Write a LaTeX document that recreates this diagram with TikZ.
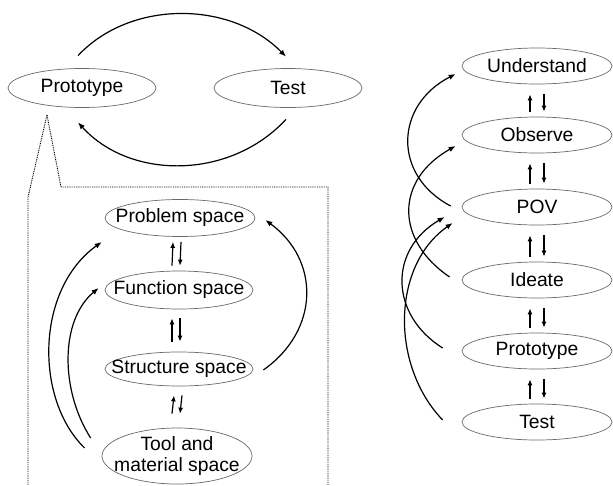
\documentclass[tikz,border=0pt]{standalone}
\usepackage{fontspec}
\setmainfont{Liberation Sans}
\usetikzlibrary{shapes.geometric,arrows.meta}
\definecolor{elgray}{RGB}{105,105,105}
\begin{document}
\begin{tikzpicture}[x=1pt,y=-1pt,
  el/.style={draw=elgray, line width=0.7pt, ellipse, inner sep=0pt},
  txt/.style={inner sep=0pt, font=\fontsize{19.3}{21.5}\selectfont, align=center},
  arr/.style={line width=1.2pt, -{Latex[length=6pt,width=5pt]}},
  curve/.style={line width=1.2pt, -{Latex[length=7pt,width=5.5pt]}},
  dots/.style={line width=0.9pt, dash pattern=on 0.9pt off 0.9pt}]
\useasboundingbox (0,0) rectangle (613,485);
% top pair
\node[el, minimum width=148pt, minimum height=39pt] (tp) at (82,88) {};
\node[txt] at (tp) {Prototype};
\node[el, minimum width=148pt, minimum height=39pt] (tt) at (288,88) {};
\node[txt] at (tt) {Test};
\draw[curve] ([xshift=-4pt,yshift=12.5pt]tp.north) .. controls (130,0) and (230,0) .. ([xshift=-2pt,yshift=11.5pt]tt.north);
\draw[curve] ([xshift=-2pt,yshift=-11.5pt]tt.south) .. controls (230,180) and (130,180) .. ([xshift=-4pt,yshift=-14.5pt]tp.south);
% dotted zoom box
\coordinate (apex) at (47,115);
\coordinate (bl) at (28,197);
\coordinate (blb) at (28,485);
\coordinate (tl) at (61,187);
\coordinate (tr) at (328,187);
\coordinate (trb) at (328,485);
\draw[dots] (apex) -- (bl) -- (blb);
\draw[dots] (apex) -- (tl) -- (tr) -- (trb);
% left box nodes
\node[el, minimum width=150pt, minimum height=37pt] (ps) at (180,218) {};
\node[txt] at (ps) {Problem space};
\node[el, minimum width=148pt, minimum height=38pt] (fs) at (179,290) {};
\node[txt] at (fs) {Function space};
\node[el, minimum width=148pt, minimum height=34pt] (ss) at (179,369) {};
\node[txt] at (ss) {Structure space};
\node[el, minimum width=150pt, minimum height=56pt] (tm) at (177,456) {};
\node[txt] at (tm) {Tool and\\material space};
% left box double arrows
\draw[arr] ([xshift=-7pt,yshift=5pt]fs.north) -- ([xshift=-7pt,yshift=-5pt]ps.south);
\draw[arr] ([xshift=1pt,yshift=-5pt]ps.south) -- ([xshift=1pt,yshift=5pt]fs.north);
\draw[arr] ([xshift=-7pt,yshift=10pt]ss.north) -- ([xshift=-7pt,yshift=-9pt]fs.south);
\draw[arr] ([xshift=1pt,yshift=-9pt]fs.south) -- ([xshift=1pt,yshift=10pt]ss.north);
\draw[arr] ([xshift=-5pt,yshift=14pt]tm.north) -- ([xshift=-5pt,yshift=-9pt]ss.south);
\draw[arr] ([xshift=3pt,yshift=-9pt]ss.south) -- ([xshift=3pt,yshift=14pt]tm.north);
% left box curves
\draw[curve] ([xshift=-17pt,yshift=8pt]tm.west) .. controls (35,400) and (35,290) .. ([xshift=-3pt,yshift=-24pt]ps.west);
\draw[curve] ([xshift=-11pt,yshift=18pt]tm.west) .. controls (60,390) and (60,320) .. ([xshift=-6pt,yshift=2pt]fs.west);
\draw[curve] ([xshift=10pt,yshift=-1pt]ss.east) .. controls (320,330) and (320,260) .. ([xshift=10pt,yshift=-2pt]ps.east);
% right column
\node[el, minimum width=150pt, minimum height=36pt] (un) at (537,66) {};
\node[txt] at (un) {Understand};
\node[el, minimum width=150pt, minimum height=36pt] (ob) at (537,135) {};
\node[txt] at (ob) {Observe};
\node[el, minimum width=150pt, minimum height=36pt] (pov) at (537,207) {};
\node[txt] at (pov) {POV};
\node[el, minimum width=150pt, minimum height=36pt] (id) at (537,280) {};
\node[txt] at (id) {Ideate};
\node[el, minimum width=150pt, minimum height=36pt] (pr) at (537,351) {};
\node[txt] at (pr) {Prototype};
\node[el, minimum width=150pt, minimum height=36pt] (te) at (537,422) {};
\node[txt] at (te) {Test};
\foreach \a/\b in {un/ob, ob/pov, pov/id, id/pr, pr/te}{
  \draw[arr] ([xshift=-7pt,yshift=5pt]\b.north) -- ([xshift=-7pt,yshift=-10pt]\a.south);
  \draw[arr] ([xshift=7pt,yshift=-10pt]\a.south) -- ([xshift=7pt,yshift=5pt]\b.north);
}
% right curves
\draw[curve] ([xshift=-11pt,yshift=1pt]pov.west) .. controls (392,175) and (395,105) .. ([xshift=-6pt,yshift=-8pt]un.west);
\draw[curve] ([xshift=-12pt,yshift=3pt]id.west) .. controls (395,240) and (395,180) .. ([xshift=-6pt,yshift=-11pt]ob.west);
\draw[curve] ([xshift=-19pt,yshift=3pt]pr.west) .. controls (390,315) and (388,250) .. ([xshift=-17pt,yshift=-10pt]pov.west);
\draw[curve] ([xshift=-19pt,yshift=2pt]te.west) .. controls (390,365) and (392,265) .. ([xshift=-9pt,yshift=-16pt]pov.west);
\end{tikzpicture}
\end{document}
